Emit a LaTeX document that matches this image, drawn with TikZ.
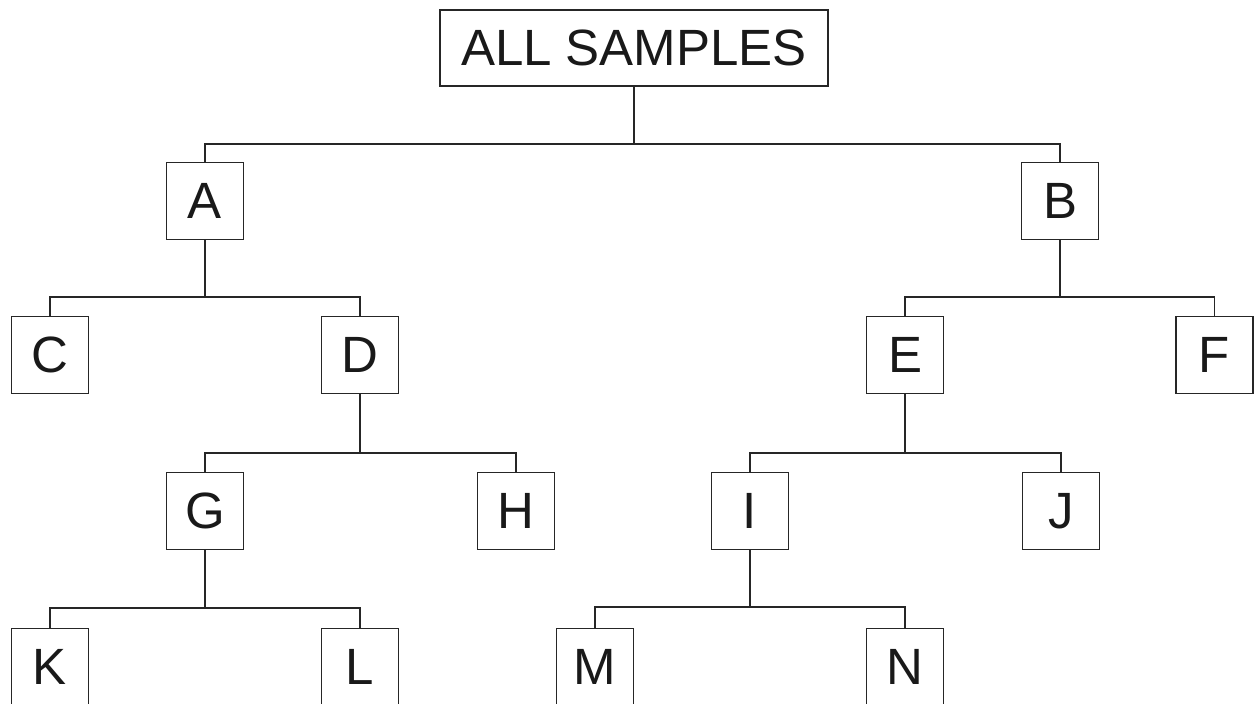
\documentclass[tikz,border=0pt]{standalone}
\usepackage{fontspec}
\setmainfont{Liberation Sans}
\begin{document}
\begin{tikzpicture}[x=1pt,y=-1pt,
  box/.style={draw=black!85,line width=1.2pt,fill=white,inner sep=0pt,
    minimum width=77pt,minimum height=77pt,font=\fontsize{51}{51}\selectfont,text=black!90},
  link/.style={draw=black!85,line width=1.2pt}]
\useasboundingbox (0,0) rectangle (1254,704);
\node[box,minimum width=388pt,minimum height=76pt] (all) at (634,48) {ALL SAMPLES};
\node[box] (A) at (205,201) {A};
\node[box] (B) at (1060,201) {B};
\node[box] (C) at (50,355) {C};
\node[box] (D) at (360,355) {D};
\node[box] (E) at (905,355) {E};
\node[box] (F) at (1214.5,355) {F};
\node[box] (G) at (205,511) {G};
\node[box] (H) at (516,511) {H};
\node[box] (I) at (750,511) {I};
\node[box] (J) at (1061,511) {J};
\node[box] (K) at (50,667) {K};
\node[box] (L) at (360,667) {L};
\node[box] (M) at (595,667) {M};
\node[box] (N) at (905,667) {N};
\path[link] (all.south) -- (all.south |- 0,144) -| (A.north);
\path[link] (all.south) -- (all.south |- 0,144) -| (B.north);
\path[link] (A.south) -- (A.south |- 0,297) -| (C.north);
\path[link] (A.south) -- (A.south |- 0,297) -| (D.north);
\path[link] (B.south) -- (B.south |- 0,297) -| (E.north);
\path[link] (B.south) -- (B.south |- 0,297) -| (F.north);
\path[link] (D.south) -- (D.south |- 0,453) -| (G.north);
\path[link] (D.south) -- (D.south |- 0,453) -| (H.north);
\path[link] (E.south) -- (E.south |- 0,453) -| (I.north);
\path[link] (E.south) -- (E.south |- 0,453) -| (J.north);
\path[link] (G.south) -- (G.south |- 0,608) -| (K.north);
\path[link] (G.south) -- (G.south |- 0,608) -| (L.north);
\path[link] (I.south) -- (I.south |- 0,607) -| (M.north);
\path[link] (I.south) -- (I.south |- 0,607) -| (N.north);
\end{tikzpicture}
\end{document}
